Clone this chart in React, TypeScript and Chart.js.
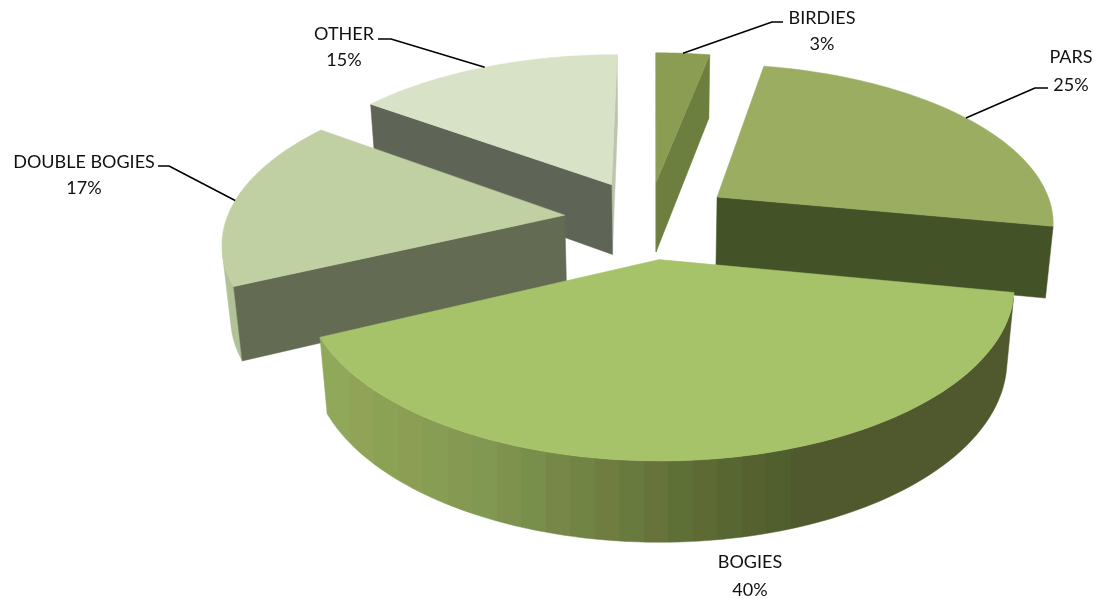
import React, { useEffect, useRef } from "react";
import { Chart } from "chart.js/auto";

const categories = ["BIRDIES", "PARS", "BOGIES", "DOUBLE BOGIES", "OTHER"];
const shares = [3, 25, 40, 17, 15];
const topColors = ["#8a9d52", "#9aad60", "#a6c36a", "#c1d0a2", "#d7e2c6"];
const startCutColors = ["#6d7f3f", "#435227", "#4e5a2d", "#636c53", "#5f6556"];
const endCutColors = ["#6d7f3f", "#435227", "#4e5a2d", "#636c53", "#bcc4ae"];
const wallColors = ["#6d7f3f", "#435227", "#4e5a2d", "#b2c297", "#b9c4a6"];
const paintOrder = [4, 0, 1, 3, 2];

// Camera that turns the flat pie into the tilted, perspective one.
const camera = { cx: 655.6, cy: 241, sx: 345, sy: 165, persp: 0.15, depth: 73.8, depthPersp: 0.02, gx: -0.021, gy: -0.137 };
const explodePx = [64, 66.5, 66.5, 66.5, 66.5];
const fontStack = "Lato, 'Open Sans', sans-serif";
const fontSize = 18;

// Label placement: centre of the text block, and the leader's elbow.
const labelLayout = [
  { x: 822, y: 18, gap: 26, elbow: [772, 22], end: [783, 22] },
  { x: 1071, y: 57, gap: 28, elbow: [1035, 88], end: [1048, 88] },
  { x: 750, y: 562, gap: 28, elbow: null, end: null },
  { x: 84, y: 162, gap: 26, elbow: [169, 166], end: [158, 166] },
  { x: 344, y: 34, gap: 26, elbow: [391, 39], end: [378, 39] },
];
// Shading of the large slice's rim, left to right on screen.
const rimStops: [number, number, number, number][] = [
  [325, 146, 168, 90],
  [400, 139, 160, 84],
  [500, 127, 150, 80],
  [600, 112, 128, 66],
  [660, 101, 116, 58],
  [750, 85, 100, 48],
  [815, 78, 90, 45],
];
const rimBandPx = 25;

function project(X: number, Y: number, z: number) {
  const gx = X + camera.gx;
  const gy = Y + camera.gy;
  const w = 1 - camera.persp * gy + camera.depthPersp * z;
  return { x: camera.cx + (camera.sx * gx) / w, y: camera.cy + (camera.sy * gy + camera.depth * z) / w };
}

function rimShade(x: number) {
  for (let i = 0; i < rimStops.length - 1; i++) {
    const a = rimStops[i], b = rimStops[i + 1];
    if (x <= b[0]) {
      const t = Math.max(0, (x - a[0]) / (b[0] - a[0]));
      return [a[1] + (b[1] - a[1]) * t, a[2] + (b[2] - a[2]) * t, a[3] + (b[3] - a[3]) * t];
    }
  }
  const l = rimStops[rimStops.length - 1];
  return [l[1], l[2], l[3]];
}

function rimGradient(ctx: CanvasRenderingContext2D) {
  const x0 = rimStops[0][0];
  const x1 = rimStops[rimStops.length - 1][0];
  const g = ctx.createLinearGradient(x0, 0, x1, 0);
  const n = Math.round((x1 - x0) / rimBandPx);
  for (let b = 0; b < n; b++) {
    const c = rimShade(x0 + (b + 0.5) * rimBandPx);
    const tint = b % 2 ? 1 : -1;
    const col = `rgb(${Math.round(c[0] + tint)},${Math.round(c[1] - tint)},${Math.round(c[2])})`;
    g.addColorStop(b / n, col);
    g.addColorStop((b + 1) / n, col);
  }
  return g;
}

type Pt = { x: number; y: number };
function facing(a: Pt, b: Pt, c: Pt) {
  return (b.x - a.x) * (c.y - b.y) - (b.y - a.y) * (c.x - b.x);
}

function poly(ctx: CanvasRenderingContext2D, pts: Pt[], color: any) {
  ctx.beginPath();
  pts.forEach((p, i) => (i ? ctx.lineTo(p.x, p.y) : ctx.moveTo(p.x, p.y)));
  ctx.closePath();
  ctx.fillStyle = color;
  ctx.strokeStyle = color;
  ctx.lineWidth = 0.5;
  ctx.lineJoin = "round";
  ctx.fill();
  ctx.stroke();
}

const pie3d = {
  id: "pie3d",
  beforeDatasetDraw(chart: any) {
    const ctx: CanvasRenderingContext2D = chart.ctx;
    const arcs = chart.getDatasetMeta(0).data;
    const geo = (arc: any) => {
      const explode = arc.options.offset / arc.outerRadius;
      const mid = (arc.startAngle + arc.endAngle) / 2;
      const ox = Math.cos(mid) * explode;
      const oy = Math.sin(mid) * explode;
      const at = (angle: number, r: number, z: number) => project(ox + Math.cos(angle) * r, oy + Math.sin(angle) * r, z);
      return { mid, at };
    };
    ctx.save();
    for (const i of paintOrder) {
      const arc = arcs[i];
      const { at } = geo(arc);
      const a0 = arc.startAngle, a1 = arc.endAngle;
      const steps = Math.max(6, Math.ceil((a1 - a0) / (Math.PI / 120)));
      const angles: number[] = [];
      for (let s = 0; s <= steps; s++) angles.push(a0 + ((a1 - a0) * s) / steps);

      // the rim: only the stretch that faces the viewer, as one polygon
      const upper: Pt[] = [];
      const lower: Pt[] = [];
      for (let s = 0; s < steps; s++) {
        const p0 = at(angles[s], 1, 0), p1 = at(angles[s + 1], 1, 0), p2 = at(angles[s + 1], 1, 1);
        if (facing(p0, p1, p2) < 0) {
          if (!upper.length) { upper.push(p0); lower.push(at(angles[s], 1, 1)); }
          upper.push(p1);
          lower.push(p2);
        }
      }
      if (upper.length) poly(ctx, [...upper, ...lower.reverse()], i === 2 ? rimGradient(ctx) : wallColors[i]);

      // the two cut faces, when they face the viewer
      const f0 = [at(a0, 0, 0), at(a0, 1, 0), at(a0, 1, 1), at(a0, 0, 1)];
      const f1 = [at(a1, 0, 0), at(a1, 1, 0), at(a1, 1, 1), at(a1, 0, 1)];
      if (facing(f1[0], f1[1], f1[2]) > 0) poly(ctx, f1, endCutColors[i]);
      if (facing(f0[0], f0[1], f0[2]) < 0) poly(ctx, f0, startCutColors[i]);

      // top face
      const top = [at(a0, 0, 0)];
      for (const a of angles) top.push(at(a, 1, 0));
      poly(ctx, top, topColors[i]);
    }
    // leaders and labels
    ctx.font = `${fontSize}px ${fontStack}`;
    ctx.textAlign = "center";
    ctx.textBaseline = "middle";
    arcs.forEach((arc: any, i: number) => {
      const l = labelLayout[i];
      if (l.elbow && l.end) {
        const { at, mid } = geo(arc);
        const p = at(mid, 1, 0);
        ctx.beginPath();
        ctx.moveTo(p.x, p.y);
        ctx.lineTo(l.elbow[0], l.elbow[1]);
        ctx.lineTo(l.end[0], l.end[1]);
        ctx.strokeStyle = "#000";
        ctx.lineWidth = 1.5;
        ctx.stroke();
      }
      ctx.fillStyle = "#111";
      ctx.fillText(categories[i], l.x, l.y);
      ctx.fillText(`${shares[i]}%`, l.x, l.y + l.gap);
    });
    ctx.restore();
    return false;
  },
};

export default function App() {
  const ref = useRef<HTMLCanvasElement>(null);
  useEffect(() => {
    document.body.style.margin = "0";
    document.body.style.background = "#fff";
    const chart = new Chart(ref.current!, {
      type: "pie",
      data: {
        labels: categories,
        datasets: [{ data: shares, backgroundColor: topColors, offset: explodePx, borderWidth: 0 }],
      },
      options: {
        responsive: false,
        animation: false,
        rotation: 0,
        events: [],
        plugins: { legend: { display: false }, tooltip: { enabled: false } },
      },
      plugins: [pie3d],
    } as any);
    return () => chart.destroy();
  }, []);
  return <canvas ref={ref} width={1094} height={599} style={{ display: "block", width: 1094, height: 599 }} />;
}
